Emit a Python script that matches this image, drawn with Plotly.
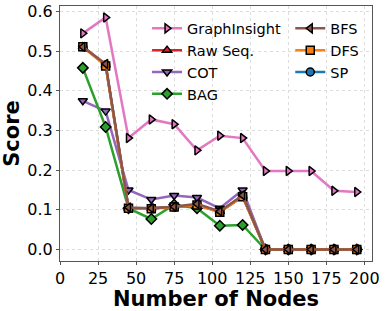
import plotly.graph_objects as go

nodes = [15, 30, 45, 60, 75, 90, 105, 120, 135, 150, 165, 180, 195]
graphinsight = [0.545, 0.585, 0.281, 0.328, 0.316, 0.250, 0.287, 0.281, 0.198, 0.198, 0.198, 0.148, 0.145]
raw_seq = [0.511, 0.465, 0.103, 0.104, 0.107, 0.112, 0.096, 0.134, 0, 0, 0, 0, 0]
cot = [0.375, 0.349, 0.150, 0.126, 0.136, 0.131, 0.104, 0.150, 0, 0, 0, 0, 0]
bag = [0.458, 0.309, 0.104, 0.077, 0.113, 0.104, 0.060, 0.062, 0, 0, 0, 0, 0]
bfs = [0.511, 0.468, 0.106, 0.104, 0.108, 0.115, 0.096, 0.137, 0, 0, 0, 0, 0]
dfs = [0.511, 0.463, 0.104, 0.103, 0.107, 0.112, 0.094, 0.133, 0, 0, 0, 0, 0]
sp = [0.511, 0.465, 0.104, 0.104, 0.107, 0.112, 0.095, 0.134, 0, 0, 0, 0, 0]

series = [
    # name, values, color, symbol, legend, rank
    ("GraphInsight", graphinsight, "#e377c2", "triangle-right", "legend", 1),
    ("Raw Seq.", raw_seq, "#d62728", "triangle-up", "legend", 2),
    ("COT", cot, "#9467bd", "triangle-down", "legend", 3),
    ("BAG", bag, "#2ca02c", "diamond", "legend", 4),
    ("SP", sp, "#1f77b4", "circle", "legend2", 7),
    ("DFS", dfs, "#ff7f0e", "square", "legend2", 6),
    ("BFS", bfs, "#8c564b", "triangle-left", "legend2", 5),
]

fig = go.Figure()
for name, vals, color, sym, leg, rank in series:
    fig.add_trace(go.Scatter(
        x=nodes, y=vals, name=name, mode="lines+markers",
        line=dict(color=color, width=2.5),
        marker=dict(symbol=sym, size=8, color=color,
                    line=dict(color="black", width=1.5)),
        legend=leg, legendrank=rank,
    ))

font_family = "DejaVu Sans"
fig.update_layout(
    width=389, height=311,
    margin=dict(l=60, r=17, t=6, b=50),
    paper_bgcolor="white", plot_bgcolor="white",
    font=dict(family=font_family, color="black"),
    showlegend=True,
    legend=dict(x=0.279, y=0.975, xanchor="left", yanchor="top",
                bgcolor="rgba(0,0,0,0)", font=dict(size=14.5),
                itemwidth=30, tracegroupgap=0),
    legend2=dict(x=0.738, y=0.975, xanchor="left", yanchor="top",
                 bgcolor="rgba(0,0,0,0)", font=dict(size=14.5),
                 itemwidth=30, tracegroupgap=0),
    xaxis=dict(
        range=[0, 205], tickmode="array", tickvals=[0, 25, 50, 75, 100, 125, 150, 175, 200],
        tickfont=dict(size=16), showgrid=True, gridcolor="#dddddd", griddash="dot",
        showline=True, mirror=True, linecolor="#555555", linewidth=1.2,
        ticks="outside", ticklen=3, tickcolor="#555555", zeroline=False,
        automargin=False,
        title=dict(text="<b>Number of Nodes</b>", font=dict(size=21), standoff=0),
    ),
    yaxis=dict(
        range=[-0.029, 0.614], tickmode="array", tickvals=[0, 0.1, 0.2, 0.3, 0.4, 0.5, 0.6],
        tickformat=".1f", tickfont=dict(size=16), showgrid=True, gridcolor="#dddddd", griddash="dot",
        showline=True, mirror=True, linecolor="#555555", linewidth=1.2,
        ticks="outside", ticklen=3, tickcolor="#555555", zeroline=False,
        automargin=False,
        title=dict(text="<b>Score</b>", font=dict(size=21), standoff=6),
    ),
)

fig.write_html("out.html", config={"displayModeBar": False},
               post_script="document.body.style.margin='0';")
